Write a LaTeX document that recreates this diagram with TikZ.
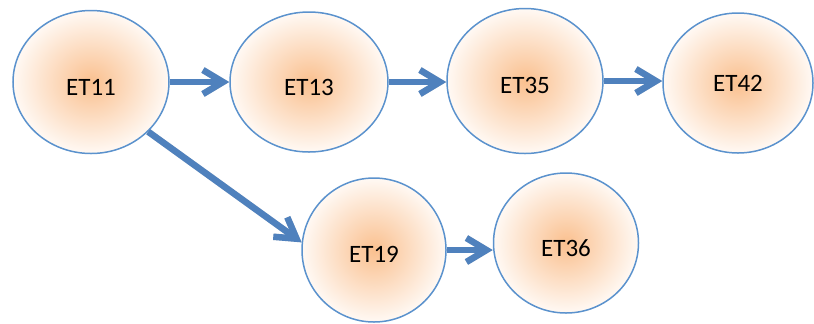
\documentclass[tikz,border=0pt]{standalone}
\usepackage{fontspec}
\setmainfont{Carlito}
\usetikzlibrary{arrows.meta,shapes.geometric}
\definecolor{arrowblue}{RGB}{79,129,189}
\definecolor{edgeblue}{RGB}{91,146,205}
\definecolor{coreorange}{RGB}{250,192,143}
\definecolor{rimwhite}{RGB}{255,249,244}
\tikzset{
  state/.style={ellipse, draw=edgeblue, line width=1.5bp, inner sep=0pt,
    inner color=coreorange, outer color=rimwhite},
  tag/.style={font=\fontsize{25bp}{28bp}\selectfont, text=black, inner sep=0pt},
  flow/.style={draw=arrowblue, line width=6.5bp,
    -{Straight Barb[length=20bp,width=24bp,line width=6.5bp]}},
  flowshadow/.style={draw=black!30, line width=6.5bp, opacity=0.4,
    -{Straight Barb[length=20bp,width=24bp,line width=6.5bp]}},
}
\begin{document}
\begin{tikzpicture}[x=1bp,y=-1bp]
\useasboundingbox (0,0) rectangle (814,323);
\node[state, minimum width=156bp, minimum height=143bp] (et11) at (91,82) {};
\node[state, minimum width=158bp, minimum height=140bp] (et13) at (309,82) {};
\node[state, minimum width=156bp, minimum height=145bp] (et35) at (525,81) {};
\node[state, minimum width=150bp, minimum height=140bp] (et42) at (738,83) {};
\node[state, minimum width=144bp, minimum height=144bp] (et19) at (374,250) {};
\node[state, minimum width=145bp, minimum height=140bp] (et36) at (566,243) {};
\node[tag] (t11) at (91,87) {ET11};
\node[tag] (t13) at (309,87) {ET13};
\node[tag] (t35) at (525,85) {ET35};
\node[tag] (t42) at (738,83) {ET42};
\node[tag] (t19) at (374,254) {ET19};
\node[tag] (t36) at (566,248) {ET36};
% shadows
\begin{scope}[shift={(2,4)}]
\draw[flowshadow] (et11.east) -- (et11.east -| et13.west);
\draw[flowshadow] (et13.east) -- (et13.east -| et35.west);
\draw[flowshadow] (et35.east) -- (et35.east -| et42.west);
\draw[flowshadow] (et11.-41) -- (et19.174);
\draw[flowshadow] (et19.east) -- (et19.east -| et36.west);
\end{scope}
% arrows
\draw[flow] (et11.east) -- (et11.east -| et13.west);
\draw[flow] (et13.east) -- (et13.east -| et35.west);
\draw[flow] (et35.east) -- (et35.east -| et42.west);
\draw[flow] (et11.-41) -- (et19.174);
\draw[flow] (et19.east) -- (et19.east -| et36.west);
\end{tikzpicture}
\end{document}
